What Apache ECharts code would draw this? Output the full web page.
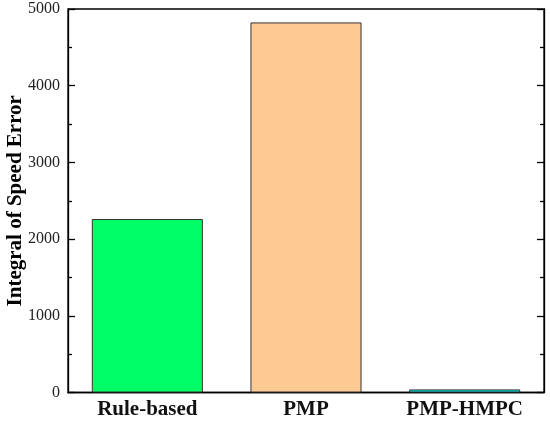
<!DOCTYPE html>
<html>
<head>
<meta charset="utf-8">
<script src="https://cdn.jsdelivr.net/npm/echarts@6/dist/echarts.min.js"></script>
<style>
  html, body { margin: 0; padding: 0; background: #fff; }
  #chart { width: 550px; height: 422px; }
</style>
</head>
<body>
<div id="chart"></div>
<script>
const categories = ['Rule-based', 'PMP', 'PMP-HMPC'];
const values = [2262, 4825, 40];
const barColors = ['#00FF66', '#FFC993', '#00E8E8'];

const chart = echarts.init(document.getElementById('chart'));

// same y scale on both sides, the right one only carries ticks
function valueAxis(pos, showLabels) {
  return {
    type: 'value',
    position: pos,
    min: 0,
    max: 5000,
    interval: 1000,
    axisLine: { show: true, lineStyle: { color: '#000', width: 1.3 } },
    axisTick: { show: true, inside: true, length: 7, lineStyle: { color: '#000', width: 1.3 } },
    minorTick: { show: true, splitNumber: 2, length: 4, lineStyle: { color: '#000', width: 1.3 } },
    splitLine: { show: false },
    axisLabel: {
      show: showLabels,
      formatter: v => String(v),
      fontFamily: 'Liberation Serif',
      fontSize: 16,
      color: '#222',
      margin: 8
    },
    name: showLabels ? 'Integral of Speed Error' : '',
    nameLocation: 'middle',
    nameGap: 42,
    nameMoveOverlap: false,
    nameTextStyle: {
      fontFamily: 'Liberation Serif',
      fontWeight: 'bold',
      fontSize: 21,
      color: '#000'
    }
  };
}

chart.setOption({
  animation: false,
  grid: {
    left: 68, right: 6, top: 9, bottom: 29.5,
    outerBoundsMode: 'none',
    containLabel: false,
    show: true, borderColor: '#000', borderWidth: 1.3
  },
  xAxis: {
    type: 'category',
    data: categories,
    axisLine: { show: true, lineStyle: { color: '#000', width: 1.3 } },
    axisTick: { show: false },
    axisLabel: {
      fontFamily: 'Liberation Serif',
      fontWeight: 'bold',
      fontSize: 21,
      color: '#111',
      margin: 7
    }
  },
  yAxis: [valueAxis('left', true), valueAxis('right', false)],
  series: [{
    type: 'bar',
    barWidth: '70%',
    data: values.map((v, i) => ({
      value: v,
      itemStyle: { color: barColors[i] }
    })),
    itemStyle: { borderColor: '#333', borderWidth: 1 }
  }]
});
</script>
</body>
</html>
